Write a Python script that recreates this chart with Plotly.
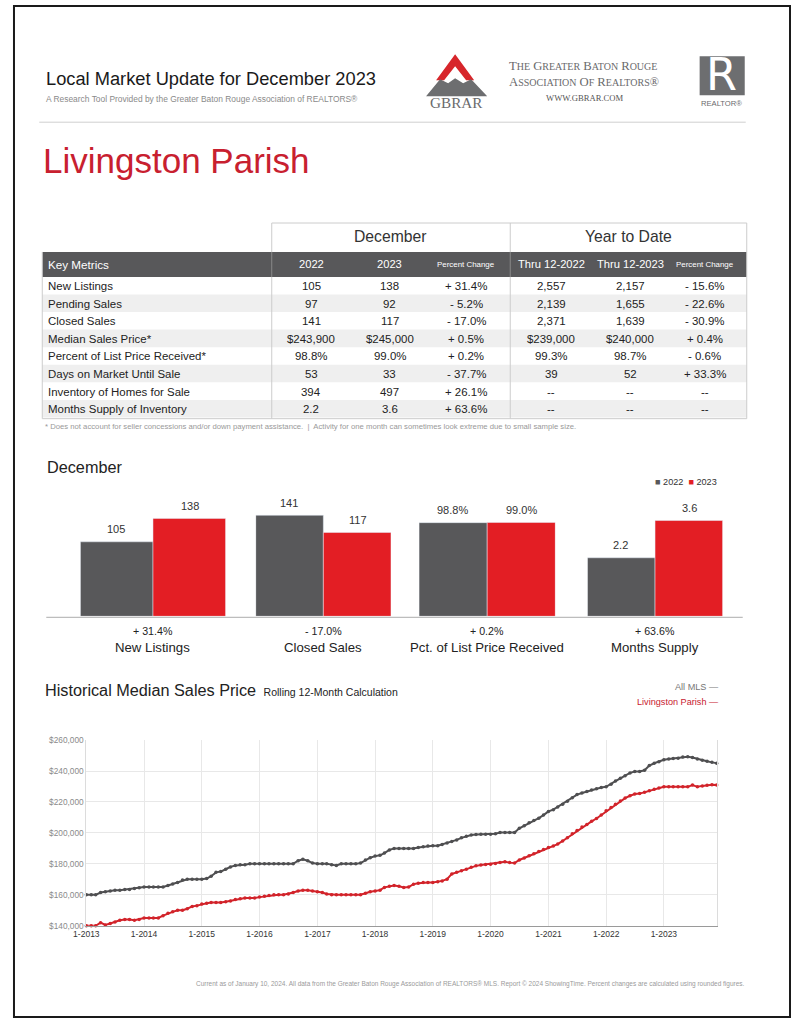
import plotly.graph_objects as go
import pandas as pd

W, H = 791, 1023
# the photographed page shows a small inset; place items so that they land on the reference spots
OX, SX, OY, SY = 13.8, 0.9815, 2.6, 0.992


def X(px):
    return ((px - OX) / SX) / W


def Y(py):
    return 1 - ((py - OY) / SY) / H


FONT = "Liberation Sans, Arial, sans-serif"
SERIF = "Liberation Serif, Times New Roman, serif"
GRAY = "#58585a"
RED = "#e31e24"
TITLE_RED = "#c8202f"

# ---------------- table data ----------------
metrics = ["New Listings", "Pending Sales", "Closed Sales", "Median Sales Price*",
           "Percent of List Price Received*", "Days on Market Until Sale",
           "Inventory of Homes for Sale", "Months Supply of Inventory"]
dec_2022 = ["105", "97", "141", "$243,900", "98.8%", "53", "394", "2.2"]
dec_2023 = ["138", "92", "117", "$245,000", "99.0%", "33", "497", "3.6"]
dec_pct = ["+ 31.4%", "- 5.2%", "- 17.0%", "+ 0.5%", "+ 0.2%", "- 37.7%", "+ 26.1%", "+ 63.6%"]
ytd_2022 = ["2,557", "2,139", "2,371", "$239,000", "99.3%", "39", "--", "--"]
ytd_2023 = ["2,157", "1,655", "1,639", "$240,000", "98.7%", "52", "--", "--"]
ytd_pct = ["- 15.6%", "- 22.6%", "- 30.9%", "+ 0.4%", "- 0.6%", "+ 33.3%", "--", "--"]
header_labels = ["Key Metrics", "2022", "2023", "Percent Change",
                 "Thru 12-2022", "Thru 12-2023", "Percent Change"]

# ---------------- bar data ----------------
bar_categories = ["New Listings", "Closed Sales", "Pct. of List Price Received", "Months Supply"]
bar_2022 = [105, 141, 98.8, 2.2]
bar_2023 = [138, 117, 99.0, 3.6]
bar_text_2022 = ["105", "141", "98.8%", "2.2"]
bar_text_2023 = ["138", "117", "99.0%", "3.6"]
bar_pct = ["+ 31.4%", "- 17.0%", "+ 0.2%", "+ 63.6%"]

# ---------------- line data (thousands of $) ----------------
months = pd.date_range("2013-01-01", "2023-12-01", freq="MS")
all_mls_k = [
    160, 160, 160, 161.5, 162, 162.5, 163, 163, 163.5, 163.5, 164, 164.5,
    165, 165, 165, 165, 165, 166, 167, 168, 169.5, 170, 170, 170,
    170, 170.5, 172, 174.5, 175, 176.5, 178, 179, 179.5, 179.5, 180, 180,
    180, 180, 180, 180, 180, 180, 180, 180, 182, 183, 182, 180.5,
    180, 180, 180, 179.5, 179, 180, 180, 180, 180, 180.5, 182.5, 184,
    185, 185.5, 187, 189, 190, 190, 190, 190, 190, 190.5, 191, 191.5,
    191.7, 191.7, 192.5, 193.5, 194.5, 195.5, 196.8, 197.8, 198.6, 199, 199.2, 199.2,
    199.2, 199.5, 200.3, 200.3, 200.3, 200.3, 203, 204.6, 206.5, 208, 209.5, 211.5,
    213.9, 215, 216.8, 218.5, 220.5, 222.8, 224.8, 225.8, 226.7, 227.8, 228.6, 229.4,
    229.8, 231.5, 233.5, 235.3, 237, 238.8, 239.7, 239.7, 240.5, 243.5, 245, 246,
    247.3, 247.8, 248.1, 248.3, 249, 249.2, 248.8, 247.8, 247, 246.3, 245.6, 245.1,
]
livingston_k = [
    140, 140, 140, 142, 140.5, 141.5, 142.5, 143.5, 144, 144, 143.5, 144,
    145, 145, 145, 145, 146.5, 148, 149, 150, 150, 151, 152.5, 153,
    154, 154.5, 155, 155, 155, 155.5, 156, 157, 157.5, 158, 158, 158,
    158.5, 159, 159.5, 160, 160, 160, 160.5, 161.5, 162.5, 163, 163, 162.5,
    162, 161.5, 160.5, 160, 160, 160, 160, 160, 160, 160, 161, 162,
    162.5, 163, 164.8, 165.5, 166, 165.5, 164.8, 165, 166.9, 167.5, 168, 168,
    168, 168.5, 169, 170.1, 173.5, 174.5, 175.5, 176.5, 177.8, 178.7, 179.2, 179.6,
    179.8, 180.2, 180.8, 181.3, 180.8, 180.5, 182.5, 183.8, 185.2, 186.5, 188, 189.3,
    190.6, 191.5, 192.8, 194.8, 196.9, 199.5, 201.5, 203.8, 205.4, 207.5, 209.3, 211.5,
    214.3, 216.5, 218.5, 220.6, 222.5, 224, 225.1, 225.4, 226.3, 227.3, 228.3, 229,
    229.8, 229.8, 229.8, 229.8, 229.8, 229.8, 231, 229.8, 230.4, 230.8, 231.1, 230.9,
]
year_tick_labels = ["1-2013", "1-2014", "1-2015", "1-2016", "1-2017", "1-2018",
                    "1-2019", "1-2020", "1-2021", "1-2022", "1-2023"]
year_tick_dates = pd.date_range("2013-01-01", "2023-01-01", freq="YS")

fig = go.Figure()
ann = []

# ---------------- bars ----------------
bar_domains = [(81, 226), (256, 391), (419, 555), (587, 722)]
bar_ranges = [204, 202, 152.7, 5.44]
layout_axes = {}
for i in range(4):
    sfx = "" if i == 0 else str(i + 1)
    fig.add_trace(go.Bar(x=[bar_categories[i]], y=[bar_2022[i]], marker_color=GRAY, name="2022",
                         showlegend=False, xaxis="x" + sfx, yaxis="y" + sfx))
    fig.add_trace(go.Bar(x=[bar_categories[i]], y=[bar_2023[i]], marker_color=RED, name="2023",
                         showlegend=False, xaxis="x" + sfx, yaxis="y" + sfx))
    l, r = bar_domains[i]
    quarter = (r - l) / 4 / SX
    for val, lab, sh in ((bar_2022[i], bar_text_2022[i], -quarter), (bar_2023[i], bar_text_2023[i], quarter)):
        ann.append(dict(text=lab, x=bar_categories[i], y=val, xref="x" + sfx, yref="y" + sfx,
                        xshift=sh, yshift=12.5, showarrow=False, xanchor="center", yanchor="middle",
                        font=dict(size=11, color="#333", family=FONT)))
    layout_axes["xaxis" + sfx] = dict(domain=[X(l), X(r)], anchor="y" + sfx, visible=False,
                                      fixedrange=True)
    layout_axes["yaxis" + sfx] = dict(domain=[Y(615), Y(470)], anchor="x" + sfx, visible=False,
                                      range=[0, bar_ranges[i]], fixedrange=True)

# ---------------- line chart ----------------
fig.add_trace(go.Scatter(x=months, y=[v * 1000 for v in all_mls_k], mode="lines+markers",
                         line=dict(color="#4f4f51", width=2), marker=dict(size=3.5, color="#4f4f51"),
                         name="All MLS", showlegend=False, xaxis="x5", yaxis="y5", cliponaxis=False))
fig.add_trace(go.Scatter(x=months, y=[v * 1000 for v in livingston_k], mode="lines+markers",
                         line=dict(color="#d2232a", width=2), marker=dict(size=3.5, color="#d2232a"),
                         name="Livingston Parish", showlegend=False, xaxis="x5", yaxis="y5",
                         cliponaxis=False))
layout_axes["xaxis5"] = dict(domain=[X(87), X(716)], anchor="y5", type="date",
                             range=["2013-01-01", "2023-12-01"],
                             tickvals=list(year_tick_dates), ticktext=year_tick_labels,
                             showgrid=True, gridcolor="#e8e8e8", gridwidth=1,
                             showline=True, linecolor="#9a9a9a", linewidth=1.5,
                             tickfont=dict(size=8.5, color="#333", family=FONT),
                             ticks="", zeroline=False)
layout_axes["yaxis5"] = dict(domain=[Y(925), Y(739)], anchor="x5",
                             range=[140000, 260000], dtick=20000, tickformat="$,.0f",
                             showgrid=True, gridcolor="#e8e8e8", gridwidth=1,
                             showline=True, linecolor="#dcdcdc", mirror=True,
                             tickfont=dict(size=8.3, color="#8a8a8a", family=FONT),
                             ticks="", zeroline=False)


# ---------------- annotations ----------------
def text(t, x, y, size, color="#222", xanchor="left", family=FONT, yanchor="middle", **kw):
    ann.append(dict(text=t, x=X(x), y=Y(y), xref="paper", yref="paper", showarrow=False,
                    xanchor=xanchor, yanchor=yanchor,
                    font=dict(size=size * 1.015, color=color, family=family), **kw))


text("Local Market Update for December 2023", 45, 76, 18, "#1a1a1a")
text("A Research Tool Provided by the Greater Baton Rouge Association of REALTORS®", 45, 97, 8.3, "#8a8a8a")
text("Livingston Parish", 42, 158, 34.5, TITLE_RED)

# GBRAR wordmark
cap = "<span style='font-size:12.7px'>{}</span>"
sm = "<span style='font-size:10px'>{}</span>"


def smallcaps(s):
    return " ".join(cap.format(w[0]) + sm.format(w[1:]) for w in s.split(" "))


text(smallcaps("THE GREATER BATON ROUGE"), 583, 64, 12, "#6a6a6c", xanchor="center", family=SERIF)
text(smallcaps("ASSOCIATION OF REALTORS") + "®", 584, 80, 12,
     "#6a6a6c", xanchor="center", family=SERIF)
text("WWW.GBRAR.COM", 585, 96, 8.5, "#555", xanchor="center", family=SERIF)
text("GBRAR", 456, 100, 15, "#6a6a6c", xanchor="center", family=SERIF)
text("R", 721, 73, 44, "#ffffff", xanchor="center", family="DejaVu Sans, sans-serif")
text("REALTOR®", 721, 101, 7.5, "#6a6a6c", xanchor="center")

# ---------------- table (text from arrays) ----------------
col_x = [47, 311.5, 390, 466, 551, 630, 704]
row0_y, row_h = 284.3, 17.6
text("December", 391, 235, 15.5, "#333", xanchor="center")
text("Year to Date", 628, 235, 15.5, "#333", xanchor="center")
hdr_sizes = [11.5, 11, 11, 7.8, 11, 11, 7.8]
for j, lab in enumerate(header_labels):
    text(lab, col_x[j], 262.5, hdr_sizes[j], "#ffffff",
         xanchor="left" if j == 0 else "center")
columns = [metrics, dec_2022, dec_2023, dec_pct, ytd_2022, ytd_2023, ytd_pct]
for j, col in enumerate(columns):
    for i, v in enumerate(col):
        text(v, col_x[j], row0_y + row_h * i, 11.3, "#222",
             xanchor="left" if j == 0 else "center")
text("* Does not account for seller concessions and/or down payment assistance.  |  Activity for one month can sometimes look extreme due to small sample size.",
     44, 425, 7.6, "#999")

# bar section
text("December", 46, 465, 16, "#222")
text("<span style='color:%s'>■</span> 2022  <span style='color:%s'>■</span> 2023" % (GRAY, RED),
     718, 480, 9, "#333", xanchor="right")
for i in range(4):
    l, r = bar_domains[i]
    text(bar_pct[i], (l + r) / 2, 630, 10.5, "#222", xanchor="center")
    text(bar_categories[i], (l + r) / 2, 646, 13, "#222", xanchor="center")

# line section
text("Historical Median Sales Price <span style='font-size:10.5px'> Rolling 12-Month Calculation</span>",
     44, 689, 16, "#222")
text("All MLS —", 720, 686, 9, "#777", xanchor="right")
text("Livingston Parish —", 720, 701, 9, "#c8202f", xanchor="right")
text("Current as of January 10, 2024. All data from the Greater Baton Rouge Association of REALTORS® MLS. Report © 2024 ShowingTime. Percent changes are calculated using rounded figures.",
     745, 983, 6.4, "#9a9a9a", xanchor="right")

# ---------------- shapes ----------------
shapes = []


def line(x0, y0, x1, y1, color="#cccccc", width=1):
    shapes.append(dict(type="line", xref="paper", yref="paper", x0=X(x0), y0=Y(y0), x1=X(x1), y1=Y(y1),
                       line=dict(color=color, width=width), layer="above"))


def rect(x0, y0, x1, y1, fill, layer="below"):
    shapes.append(dict(type="rect", xref="paper", yref="paper", x0=X(x0), y0=Y(y1), x1=X(x1), y1=Y(y0),
                       fillcolor=fill, line=dict(width=0), layer=layer))


# page frame (kept inside the drawable page)
shapes.append(dict(type="rect", xref="paper", yref="paper", x0=1 / W, y0=1 / H, x1=1 - 1 / W, y1=1 - 1 / H,
                   line=dict(color="#1a1a1a", width=2)))
line(40, 120, 745, 120, "#cfcfcf", 1)
# logo: red chevron & mountain
shapes.append(dict(type="path", xref="paper", yref="paper",
                   path="M {} {} L {} {} L {} {} L {} {} L {} {} L {} {} Z".format(
                       X(455), Y(52), X(474), Y(78), X(466), Y(78), X(455), Y(64), X(444), Y(78), X(436), Y(78)),
                   fillcolor="#d7262b", line=dict(width=0)))
shapes.append(dict(type="path", xref="paper", yref="paper",
                   path="M {} {} L {} {} L {} {} L {} {} L {} {} L {} {} L {} {} Z".format(
                       X(426), Y(94), X(440), Y(77), X(448), Y(81), X(455), Y(76), X(463), Y(81), X(471), Y(77), X(487), Y(94)),
                   fillcolor="#6d6e70", line=dict(width=0)))
# REALTOR block
rect(699, 54, 744, 93, "#6d6e70")
# table backgrounds
rect(43, 250, 746, 275, GRAY)
for i in range(len(metrics)):
    if i % 2 == 1:
        rect(43, 275 + row_h * i, 746, 275 + row_h * (i + 1), "#efefef")
# table frame
line(272, 221, 746, 221)
line(272, 221, 272, 250)
line(510, 221, 510, 250)
line(272, 250, 272, 275, "#8a8a8a")
line(510, 250, 510, 275, "#8a8a8a")
line(272, 275, 272, 417)
line(510, 275, 510, 417)
line(746, 221, 746, 417)
line(43, 250, 43, 417)
line(43, 417, 746, 417)
# bar baseline
line(47, 616, 742, 616, "#bdbdbd", 1.2)

fig.update_layout(
    width=W, height=H, margin=dict(l=0, r=0, t=0, b=0),
    paper_bgcolor="white", plot_bgcolor="white",
    barmode="group", bargap=0, bargroupgap=0,
    annotations=ann, shapes=shapes, showlegend=False,
    font=dict(family=FONT),
    **layout_axes,
)

fig.write_html("out.html", config={"displayModeBar": False, "staticPlot": True},
               post_script="document.body.style.margin='0';document.body.style.overflow='hidden';")
